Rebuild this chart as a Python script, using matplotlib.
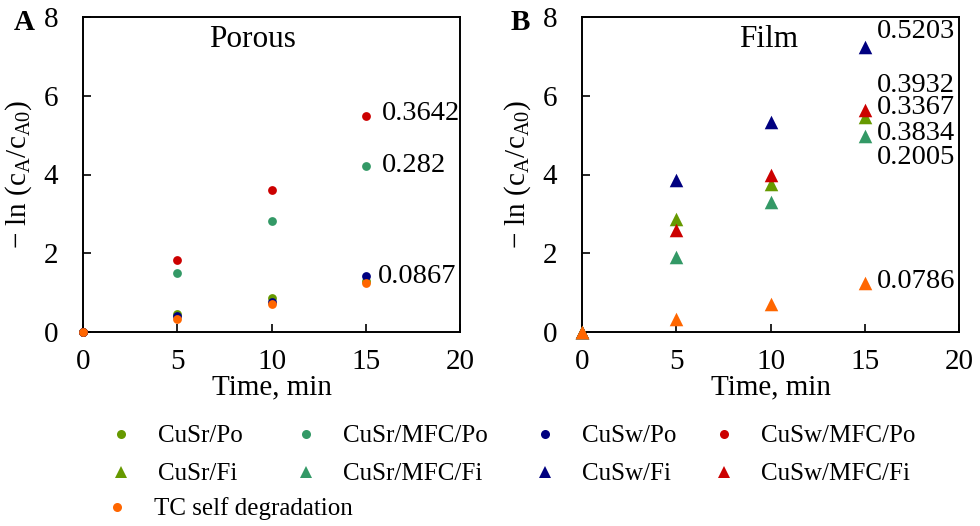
import matplotlib
matplotlib.use("Agg")
import matplotlib.pyplot as plt
from matplotlib.lines import Line2D

plt.rcParams['font.family'] = ['Liberation Serif', 'DejaVu Serif']
plt.rcParams['mathtext.fontset'] = 'custom'
plt.rcParams['mathtext.rm'] = 'Liberation Serif'
plt.rcParams['mathtext.it'] = 'Liberation Serif:italic'

# Sampling times (min)
time = [0, 5, 10, 15]

# Porous catalysts: -ln(cA/cA0)
cusr_po = [0, 0.45, 0.87, 1.30]
cusr_mfc_po = [0, 1.51, 2.81, 4.22]
cusw_po = [0, 0.40, 0.76, 1.42]
cusw_mfc_po = [0, 1.82, 3.60, 5.49]

# Film catalysts: -ln(cA/cA0)
cusr_fi = [0, 2.86, 3.75, 5.45]
cusr_mfc_fi = [0, 1.91, 3.31, 4.98]
cusw_fi = [0, 3.86, 5.34, 7.23]
cusw_mfc_fi = [0, 2.60, 3.99, 5.64]

# TC without catalyst
tc_self = [0, 0.32, 0.71, 1.25]

# Rate constants written beside the last points
k_porous = ["0.3642", "0.282", "0.0867"]
k_porous_y = [5.54, 4.24, 1.42]
k_porous_x = [15.86, 15.86, 15.65]
k_film = ["0.5203", "0.3932", "0.3367", "0.3834", "0.2005", "0.0786"]
k_film_y = [7.62, 6.27, 5.69, 5.05, 4.44, 1.27]
k_film_x = 15.65

OLIVE = '#669900'
TEAL = '#339966'
NAVY = '#000080'
RED = '#CC0000'
ORANGE = '#FF6600'

W, H = 980, 526
fig = plt.figure(figsize=(9.8, 5.26), dpi=100)

def px_axes(left, right, top, bottom):
    return fig.add_axes([left / W, 1 - bottom / H, (right - left) / W, (bottom - top) / H])

axA = px_axes(83, 460, 17, 332)
axB = px_axes(582, 959, 17, 332)

circ = dict(marker='o', s=40, linewidths=0, zorder=3, clip_on=False)
tri = dict(marker='^', s=95, linewidths=0, zorder=3, clip_on=False)

axA.scatter(time, cusr_po, color=OLIVE, **circ)
axA.scatter(time, cusr_mfc_po, color=TEAL, **circ)
axA.scatter(time, cusw_mfc_po, color=RED, **circ)
axA.scatter(time, cusw_po, color=NAVY, **circ)
axA.scatter(time, tc_self, color=ORANGE, **circ)

axB.scatter(time, cusw_fi, color=NAVY, **tri)
axB.scatter(time, cusr_fi, color=OLIVE, **tri)
axB.scatter(time, cusw_mfc_fi, color=RED, **tri)
axB.scatter(time, cusr_mfc_fi, color=TEAL, **tri)
axB.scatter(time, tc_self, color=ORANGE, **tri)

for x, y, s in zip(k_porous_x, k_porous_y, k_porous):
    axA.text(x, y, s, fontsize=20.5, ha='left', va='center')
for y, s in zip(k_film_y, k_film):
    axB.text(k_film_x, y, s, fontsize=20.5, ha='left', va='center')

axA.text(9.0, 7.44, 'Porous', fontsize=22.5, ha='center', va='center')
axB.text(9.9, 7.44, 'Film', fontsize=22.5, ha='center', va='center')

ylabel = '\u2212 ln (c$_{\\mathrm{A}}$/c$_{\\mathrm{A0}}$)'
for ax in (axA, axB):
    ax.set_xlim(0, 20)
    ax.set_ylim(0, 8)
    ax.set_xticks([0, 5, 10, 15, 20])
    ax.set_yticks([0, 2, 4, 6, 8])
    ax.tick_params(axis='both', direction='in', length=6, width=1.2,
                   labelsize=21, top=False, right=False)
    ax.tick_params(axis='y', pad=18)
    ax.tick_params(axis='x', pad=12)
    for sp in ax.spines.values():
        sp.set_linewidth(1.4)
    ax.set_xlabel('Time, min', fontsize=21, labelpad=0)
    ax.set_ylabel(ylabel, fontsize=21)
    ax.yaxis.set_label_coords(-0.13, 0.5)

fig.text(24 / W, 1 - 23 / H, 'A', fontsize=21, fontweight='bold', ha='center', va='center')
fig.text(520 / W, 1 - 23 / H, 'B', fontsize=21, fontweight='bold', ha='center', va='center')

# Legend: one entry per box so the columns can be placed freely
legend_names = ["CuSr/Po", "CuSr/MFC/Po", "CuSw/Po", "CuSw/MFC/Po",
                "CuSr/Fi", "CuSr/MFC/Fi", "CuSw/Fi", "CuSw/MFC/Fi",
                "TC self degradation"]
legend_colors = [OLIVE, TEAL, NAVY, RED, OLIVE, TEAL, NAVY, RED, ORANGE]
legend_markers = ['o', 'o', 'o', 'o', '^', '^', '^', '^', 'o']
legend_sizes = [6.5, 6.5, 6.5, 6.5, 9, 9, 9, 9, 6.5]
col_x = [121, 306, 545, 724]
row_y = [436, 474, 509]
LEG_FS = 18
fs_px = LEG_FS * 100 / 72
for i, (name, c, m, ms) in enumerate(zip(legend_names, legend_colors, legend_markers, legend_sizes)):
    if i < 8:
        mx, my = col_x[i % 4], row_y[i // 4]
    else:
        mx, my = 117, row_y[2]
    h = Line2D([], [], linestyle='none', marker=m, markersize=ms,
               markerfacecolor=c, markeredgewidth=0, color=c)
    left = mx - fs_px * 1.0
    fig.legend(handles=[h], labels=[name], loc='center left',
               bbox_to_anchor=(left / W, 1 - my / H), frameon=False,
               fontsize=LEG_FS, handlelength=2.0, handletextpad=0.48,
               borderpad=0, borderaxespad=0)

fig.savefig('out.png', dpi=100)
